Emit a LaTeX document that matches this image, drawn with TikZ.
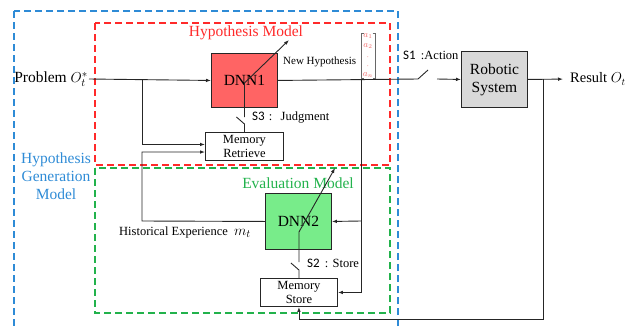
\documentclass[tikz,border=0pt]{standalone}
\usepackage{fontspec}
\setmainfont{Liberation Serif}
\newfontfamily\swfont{Carlito}
\usetikzlibrary{arrows.meta,calc}
\definecolor{hypred}{HTML}{FF2A2A}
\definecolor{dnnred}{HTML}{FF6464}
\definecolor{evalgreen}{HTML}{22B24C}
\definecolor{dnngreen}{HTML}{78EC8A}
\definecolor{genblue}{HTML}{2E8BD6}
\definecolor{sysgray}{HTML}{D9D9D9}
\definecolor{vecpink}{HTML}{F06A6A}
\definecolor{wirecol}{HTML}{262626}

\begin{document}
\begin{tikzpicture}[x=1pt,y=-1pt,
  wire/.style={draw=wirecol, line width=0.9pt},
  arr/.style={wire, -{Latex[length=5pt,width=3.6pt]}},
  block/.style={draw=wirecol, line width=0.9pt, anchor=north west, inner sep=0pt, align=center},
  big/.style={font=\fontsize{15.5}{18}\selectfont},
  small/.style={font=\fontsize{12.5}{14}\selectfont},
  tiny/.style={font=\fontsize{11}{12}\selectfont},
  frame/.style={dash pattern=on 7pt off 4pt, line width=1.4pt},
  vec/.style={text=vecpink, font=\fontsize{9}{9}\selectfont, inner sep=0pt},
  swlabel/.style={small, anchor=west, inner sep=0pt},
]
\useasboundingbox (0,0) rectangle (636,327);
\clip (0,0) rectangle (636,327);

% dashed frames
\draw[frame, genblue] (14,11) rectangle (398,345);
\draw[frame, hypred] (95,23) rectangle (390,165);
\draw[frame, evalgreen] (95,168) rectangle (390,313);

% frame titles
\node[big, text=hypred] (thyp) at (246,33) {Hypothesis Model};
\node[big, text=evalgreen] (teval) at (298,183) {Evaluation Model};
\node[big, text=genblue, align=center] (tgen) at (56,176) {Hypothesis\\Generation\\Model};

% blocks
\node[block, big, fill=dnnred, minimum width=66pt, minimum height=54pt] (dnn1) at (211,53) {DNN1};
\node[block, small, fill=white, minimum width=78pt, minimum height=28pt] (ret) at (205,132) {Memory\\Retrieve};
\node[block, big, fill=sysgray, minimum width=66pt, minimum height=56pt] (rob) at (461,51) {Robotic\\System};
\node[block, big, fill=dnngreen, minimum width=66pt, minimum height=56pt] (dnn2) at (265,193) {DNN2};
\node[block, small, fill=white, minimum width=77pt, minimum height=28pt] (sto) at (260,278) {Memory\\Store};

% input and output labels
\node[big, anchor=east, inner sep=1pt] (prob) at (89,79) {Problem $O_t^{*}$};
\node[font=\fontsize{14.5}{16}\selectfont, anchor=west, inner sep=0pt] (res) at (570,79) {Result $O_t$};
\node[small, anchor=west, inner sep=0pt] (hist) at (119,232) {Historical Experience\ \ {\fontsize{15}{15}\selectfont$m_t$}};
\node[tiny, anchor=west, inner sep=0pt] (newh) at (283,62) {New Hypothesis};

% switch labels
\node[swlabel] (l3) at (252,118) {{\swfont\fontsize{13}{14}\selectfont S3}\,\,:\,\, Judgment};
\node[swlabel] (l2) at (307,263) {{\swfont\fontsize{13}{14}\selectfont S2}\, : Store};
\node[swlabel] (l1) at (403,55) {{\swfont\fontsize{13}{14}\selectfont S1}\, :Action};

% hypothesis vector
\draw[wirecol!70, line width=0.7pt] (363.5,33) -- (361,33) -- (361,78) -- (363.5,78);
\draw[wirecol!70, line width=0.7pt] (372.5,33) -- (375,33) -- (375,78) -- (372.5,78);
\node[vec] (va1) at (368,36.5) {$a_1$};
\node[vec] (va2) at (368,46) {$a_2$};
\node[vec] (vd1) at (368,57) {$\cdot$};
\node[vec] (vd2) at (368,66) {$\cdot$};
\node[vec] (van) at (368,75.5) {$a_n$};

% main signal path
\coordinate (j1) at (142,79);
\draw[arr] (prob.east) -- (dnn1.west);
\draw[arr] (j1) |- ($(ret.west)+(0,-2)$);
\coordinate (s1a) at (418,79);
\coordinate (s1b) at (428,70);
\coordinate (s1c) at (437,79);
\draw[wire] (dnn1.east) -- (s1a) -- (s1b);
\draw[arr] (s1c) -- (rob.west);
\draw[arr, shorten >=7pt] (rob.east) -- (res.west);

% hypothesis fed to evaluation and storage
\coordinate (j2) at (361,79);
\coordinate (j2b) at (361,221);
\draw[arr] (j2) |- (sto.east);
\draw[arr] (j2b) -- (dnn2.east);

% result fed back to storage
\coordinate (j3) at (543,79);
\coordinate (fb) at (543,319);
\draw[arr] (j3) -- (fb) -| (sto.south);

% historical experience loop
\coordinate (h1) at (142,221);
\coordinate (h2) at (142,152);
\draw[arr] (dnn2.west) -- (h1) -- (h2) -- (ret.west |- h2);

% S3 switch and DNN1 adjustment
\coordinate (s3lo) at ($(ret.north)+(0,-8)$);
\coordinate (s3blade) at ($(ret.north)+(-8,-15)$);
\coordinate (s3hi) at ($(ret.north)+(0,-15)$);
\coordinate (a1k) at ($(ret.north)+(0,-49)$);
\coordinate (a1t) at (289,40);
\draw[wire] (ret.north) -- (s3lo) -- (s3blade);
\draw[arr] (s3hi) -- (a1k) -- (a1t);

% S2 switch and DNN2 adjustment
\coordinate (s2lo) at ($(sto.north)+(0,-8)$);
\coordinate (s2blade) at ($(sto.north)+(-8,-15)$);
\coordinate (s2hi) at ($(sto.north)+(0,-16)$);
\coordinate (a2k) at ($(sto.north)+(0,-46)$);
\coordinate (a2t) at (335,168);
\draw[wire] (sto.north) -- (s2lo) -- (s2blade);
\draw[arr] (s2hi) -- (a2k) -- (a2t);
\end{tikzpicture}
\end{document}
